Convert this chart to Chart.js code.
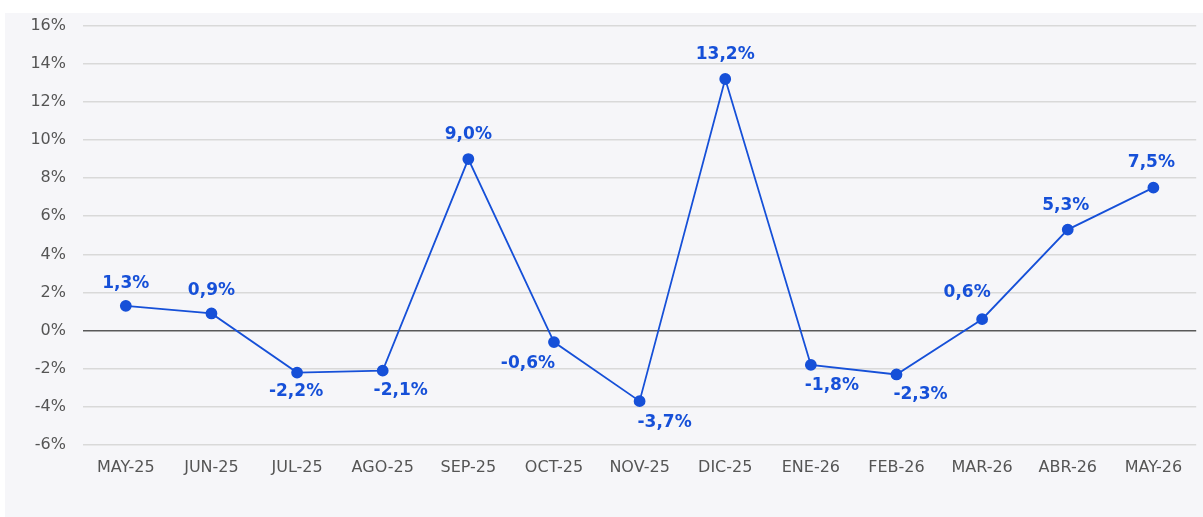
<!DOCTYPE html>
<html>
<head>
<meta charset="utf-8">
<script src="https://cdn.jsdelivr.net/npm/chart.js@4"></script>
<style>
  html, body { margin: 0; padding: 0; background: #ffffff; overflow: hidden; }
  #panel { position: absolute; left: 5px; top: 13px; width: 1198px; height: 504px; background: #f6f6f9; }
  #grafico { position: absolute; left: 0; top: -14px; }
</style>
</head>
<body>
<div id="panel"><canvas id="grafico" width="1198" height="518"></canvas></div>
<script>
const meses = ["MAY-25", "JUN-25", "JUL-25", "AGO-25", "SEP-25", "OCT-25", "NOV-25", "DIC-25", "ENE-26", "FEB-26", "MAR-26", "ABR-26", "MAY-26"];
const variacion = [1.3, 0.9, -2.2, -2.1, 9.0, -0.6, -3.7, 13.2, -1.8, -2.3, 0.6, 5.3, 7.5];

// desplazamiento de cada etiqueta respecto a su punto (px)
const offsets = [[0,-22],[0,-23],[-1,19],[18,20],[0,-24],[-26,22],[25,21],[0,-24],[21,21],[24,20],[-15,-27],[-2,-24],[-2,-25]];

const azul = "#1650d8";

const etiquetas = {
    id: "etiquetas",
    afterDatasetsDraw(chart) {
        const ctx = chart.ctx;
        const meta = chart.getDatasetMeta(0);
        ctx.save();
        ctx.font = "bold 17px 'DejaVu Sans'";
        ctx.fillStyle = azul;
        ctx.textAlign = "center";
        ctx.textBaseline = "middle";
        meta.data.forEach((pt, i) => {
            const txt = variacion[i].toFixed(1).replace(".", ",") + "%";
            ctx.fillText(txt, pt.x + offsets[i][0], pt.y + offsets[i][1]);
        });
        ctx.restore();
    }
};

const ctx = document.getElementById("grafico").getContext("2d");
const grafico = new Chart(ctx, {
    type: "line",
    data: {
        labels: meses,
        datasets: [{
            data: variacion,
            borderColor: azul,
            backgroundColor: azul,
            borderWidth: 1.8,
            pointRadius: 5,
            pointHoverRadius: 5,
            tension: 0
        }]
    },
    options: {
        responsive: false,
        animation: false,
        layout: { padding: { left: 0, top: 0, right: 5, bottom: 0 } },
        plugins: {
            legend: { display: false },
            tooltip: { enabled: false }
        },
        scales: {
            x: {
                offset: true,
                grid: { display: false, drawTicks: false },
                border: { display: false },
                ticks: { color: "#555555", font: { family: "'DejaVu Sans'", size: 16 }, padding: 13, maxRotation: 0 },
                afterFit(s) { s.height = 72; }
            },
            y: {
                min: -6,
                max: 16,
                ticks: {
                    stepSize: 2,
                    color: "#555555",
                    font: { family: "'DejaVu Sans'", size: 16 },
                    padding: 17,
                    callback: v => v + "%"
                },
                grid: {
                    drawTicks: false,
                    lineWidth: 1.5,
                    color: c => c.tick && c.tick.value === 0 ? "#595959" : "#d9d9d9"
                },
                border: { display: false },
                afterFit(s) { s.width = 78; }
            }
        }
    },
    plugins: [etiquetas]
});
</script>
</body>
</html>
